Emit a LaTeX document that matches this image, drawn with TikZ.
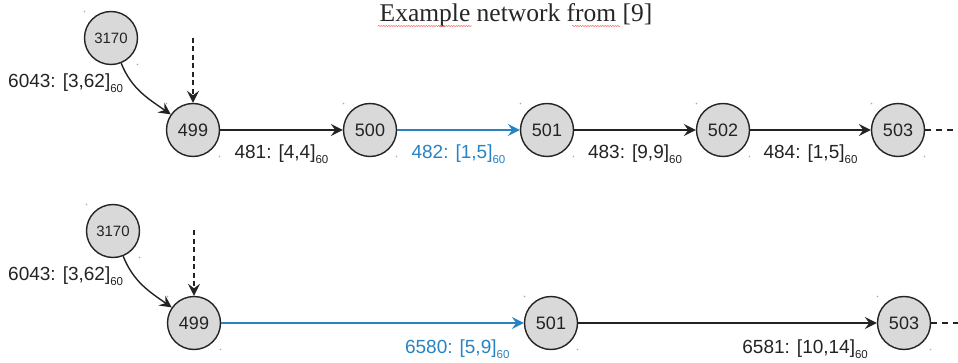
\documentclass[tikz,border=0pt]{standalone}
\usepackage{fontspec}
\setmainfont{Liberation Sans}
\newfontfamily\titlefont{Liberation Serif}
\usetikzlibrary{arrows.meta,decorations.pathmorphing}
\definecolor{ink}{RGB}{35,35,35}
\definecolor{flow}{RGB}{40,130,195}
\definecolor{nodefill}{RGB}{217,217,217}
\definecolor{handle}{RGB}{170,170,170}
% interval label with its period as a lowered index
\newcommand\intv[2]{#1\raisebox{-5pt}{\fontsize{11.5}{12}\selectfont #2}}

\begin{document}
\begin{tikzpicture}[x=1pt,y=1pt,
  vtx/.style={circle, draw=ink, fill=nodefill, line width=1.4pt, minimum size=53pt,
              inner sep=0pt, text=ink, font=\fontsize{18}{20}\selectfont},
  smallvtx/.style={vtx, font=\fontsize{15}{17}\selectfont},
  arc/.style={draw=ink, line width=1.4pt, -{Stealth[length=12pt,width=12pt,inset=4.5pt]}},
  hot/.style={arc, draw=flow},
  feed/.style={arc, dash pattern=on 5pt off 3.5pt},
  tail/.style={draw=ink, line width=1.4pt, dash pattern=on 6pt off 5pt},
  lbl/.style={anchor=base, text=ink, font=\fontsize{19}{22}\selectfont, inner sep=0pt},
  sidelbl/.style={lbl, anchor=base west},
  squiggle/.style={draw=red!60, line width=0.5pt,
                   decorate, decoration={snake, amplitude=0.6pt, segment length=2.5pt}}
]
\useasboundingbox (0,0) rectangle (958,362);

% title
\node[anchor=base, inner sep=0pt, text=black!85, font=\titlefont\fontsize{25.5}{28}\selectfont]
  (title) at (516,340) {Example network from [9]};
\path[squiggle] (378,336) -- (472,336);
\path[squiggle] (572,336) -- (620,336);

% ---------- upper network ----------
\node[smallvtx] (t3170) at (111,324) {3170};
\node[vtx] (t499) at (193,232) {499};
\node[vtx] (t500) at (370,232) {500};
\node[vtx] (t501) at (547,232) {501};
\node[vtx] (t502) at (723,232) {502};
\node[vtx] (t503) at (898,232) {503};
\coordinate (tin) at (193,324);
\coordinate (tout) at (958,232);

\draw[feed] (tin) -- (t499);
\draw[arc] (t3170) to[out=-68, in=145] (t499);
\node[sidelbl] (tl0) at (8,274) {\intv{6043: [3,62]}{60}};
\draw[arc] (t499) -- node[lbl, midway, yshift=-28pt] (tl1) {\intv{481: [4,4]}{60}} (t500);
\draw[hot] (t500) -- node[lbl, midway, yshift=-28pt, text=flow] (tl2) {\intv{482: [1,5]}{60}} (t501);
\draw[arc] (t501) -- node[lbl, midway, yshift=-28pt] (tl3) {\intv{483: [9,9]}{60}} (t502);
\draw[arc] (t502) -- node[lbl, midway, yshift=-28pt] (tl4) {\intv{484: [1,5]}{60}} (t503);
\draw[tail] (t503) -- (tout);

% ---------- lower network ----------
\node[smallvtx] (b3170) at (113,131) {3170};
\node[vtx] (b499) at (194,39) {499};
\node[vtx] (b501) at (551,39) {501};
\node[vtx] (b503) at (904,39) {503};
\coordinate (bin) at (194,132);
\coordinate (bout) at (958,39);

\draw[feed] (bin) -- (b499);
\draw[arc] (b3170) to[out=-68, in=145] (b499);
\node[sidelbl] (bl0) at (8,82) {\intv{6043: [3,62]}{60}};
\draw[hot] (b499) -- node[lbl, pos=0.78, yshift=-30pt, text=flow] (bl1) {\intv{6580: [5,9]}{60}} (b501);
\draw[arc] (b501) -- node[lbl, pos=0.76, yshift=-30pt] (bl2) {\intv{6581: [10,14]}{60}} (b503);
\draw[tail] (b503) -- (bout);

% selection handles at the corners of each vertex
\foreach \n in {t3170,t499,t500,t501,t502,t503,b3170,b499,b501,b503}{
  \fill[handle] (\n.center) ++(-26.5,26.5) circle (0.9pt);
  \fill[handle] (\n.center) ++(26.5,-26.5) circle (0.9pt);
}
\end{tikzpicture}
\end{document}
